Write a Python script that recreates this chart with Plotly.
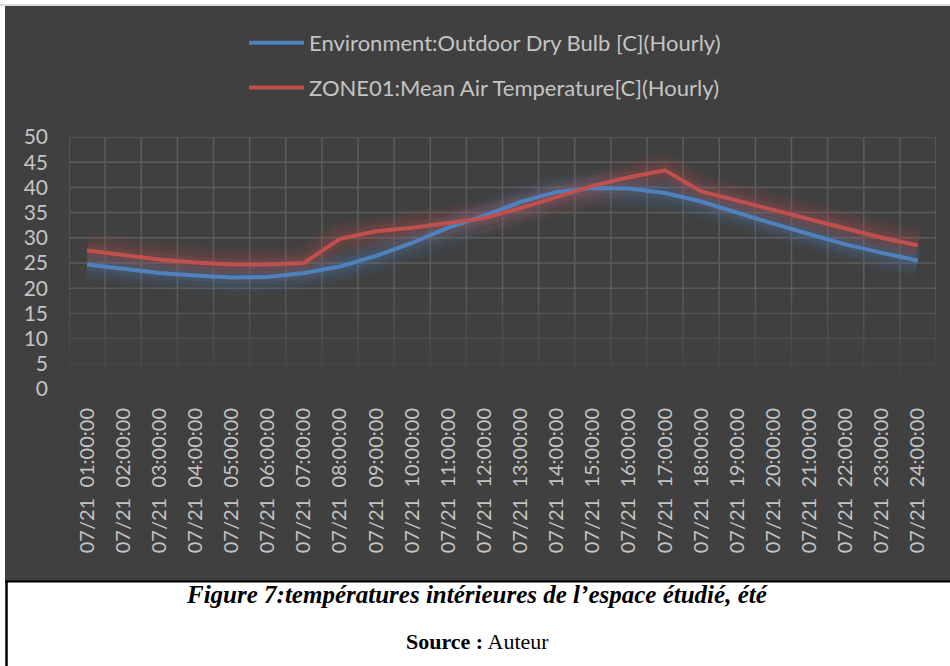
import plotly.graph_objects as go

# Hourly temperatures for 21 July
hours = [f"07/21  {h:02d}:00:00" for h in range(1, 25)]
outdoor_temp = [24.7, 23.8, 23.0, 22.5, 22.1, 22.2, 23.0, 24.3, 26.4, 29.0, 32.0, 34.4,
                37.1, 39.1, 39.9, 39.8, 38.9, 37.2, 34.9, 32.8, 30.7, 28.7, 27.0, 25.5]
zone_temp = [27.5, 26.5, 25.7, 25.1, 24.7, 24.7, 25.0, 29.8, 31.3, 32.0, 32.9, 33.9,
             35.9, 38.1, 40.3, 42.0, 43.4, 39.2, 37.4, 35.5, 33.6, 31.8, 30.0, 28.5]
y_ticks = [0, 5, 10, 15, 20, 25, 30, 35, 40, 45, 50]

name_outdoor = "Environment:Outdoor Dry Bulb [C](Hourly)"
name_zone = "ZONE01:Mean Air Temperature[C](Hourly)"

BLUE = "#4F81BD"
RED = "#C0504D"
BG = "#404040"
GRID = "#5c5c5c"
TXT = "#c4c4c4"

W, H = 950, 666
ML, MR, MT, MB = 69, 14, 137, 277
PW, PH = W - ML - MR, H - MT - MB


def px_x(px):
    return (px - ML) / PW


def px_y(py):
    return (H - MB - py) / PH


fig = go.Figure()

# soft glow beneath each series
for vals, rgb in ((outdoor_temp, "79,129,189"), (zone_temp, "192,80,77")):
    for w, a in ((36, 0.05), (28, 0.07), (20, 0.09), (12, 0.13)):
        fig.add_trace(go.Scatter(x=hours, y=vals, mode="lines",
                                 line=dict(color=f"rgba({rgb},{a})", width=w),
                                 hoverinfo="skip", showlegend=False))

fig.add_trace(go.Scatter(x=hours, y=outdoor_temp, mode="lines", name=name_outdoor,
                         line=dict(color=BLUE, width=4), legendgroup="a"))
fig.add_trace(go.Scatter(x=hours, y=zone_temp, mode="lines", name=name_zone,
                         line=dict(color=RED, width=4), legendgroup="b"))

shapes = []
# chart background panel and frame lines
shapes.append(dict(type="rect", xref="paper", yref="paper", layer="below",
                   x0=px_x(5), x1=px_x(951), y0=px_y(581), y1=px_y(6),
                   fillcolor=BG, line=dict(width=0)))
shapes.append(dict(type="line", xref="paper", yref="paper", layer="below",
                   x0=px_x(0), x1=px_x(950), y0=px_y(5), y1=px_y(5),
                   line=dict(color="#d0d0d0", width=1.5)))
shapes.append(dict(type="line", xref="paper", yref="paper", layer="above",
                   x0=px_x(5), x1=px_x(951), y0=px_y(581.5), y1=px_y(581.5),
                   line=dict(color="#000000", width=2)))
shapes.append(dict(type="line", xref="paper", yref="paper", layer="above",
                   x0=px_x(6.5), x1=px_x(6.5), y0=px_y(582), y1=px_y(667),
                   line=dict(color="#000000", width=2.5)))


# gridlines fading toward the bottom of the plot
def fade(v):
    return max(0.0, min(1.0, v / 22.0)) if v < 22 else 1.0


for yv in y_ticks:
    if yv == 0:
        continue
    shapes.append(dict(type="line", xref="x", yref="y", layer="below",
                       x0=-0.5, x1=len(hours) - 0.5, y0=yv, y1=yv,
                       line=dict(color=GRID, width=1.5), opacity=fade(yv)))
for k in range(len(hours) + 1):
    xv = k - 0.5
    shapes.append(dict(type="line", xref="x", yref="y", layer="below",
                       x0=xv, x1=xv, y0=20, y1=50,
                       line=dict(color=GRID, width=1.5)))
    for lo in range(0, 20, 2):
        shapes.append(dict(type="line", xref="x", yref="y", layer="below",
                           x0=xv, x1=xv, y0=lo, y1=lo + 2,
                           line=dict(color=GRID, width=1.5),
                           opacity=fade(lo + 1)))

fig.update_layout(
    width=W, height=H,
    margin=dict(l=ML, r=MR, t=MT, b=MB),
    paper_bgcolor="#ffffff",
    plot_bgcolor="rgba(0,0,0,0)",
    font=dict(family="Lato", size=20, color=TXT),
    shapes=shapes,
    showlegend=True,
    legend=dict(x=px_x(244), y=px_y(22), xanchor="left", yanchor="top",
                bgcolor="rgba(0,0,0,0)", font=dict(family="Lato", size=22, color=TXT),
                tracegroupgap=13, itemwidth=55, traceorder="grouped"),
    xaxis=dict(type="category", range=[-0.5, len(hours) - 0.5], showgrid=False,
               zeroline=False, showline=False, tickangle=-90, ticks="",
               tickfont=dict(family="Lato", size=20, color=TXT), ticklabelstandoff=14),
    yaxis=dict(range=[0, 50], tickvals=y_ticks, showgrid=False, zeroline=False,
               showline=False, ticks="", ticklabelstandoff=20,
               tickfont=dict(family="Lato", size=21, color=TXT)),
    annotations=[
        dict(xref="paper", yref="paper", x=px_x(477), y=px_y(594), xanchor="center",
             yanchor="middle", showarrow=False,
             text="<b><i>Figure 7:températures intérieures de l’espace étudié, été</i></b>",
             font=dict(family="Liberation Serif", size=25, color="#000000")),
        dict(xref="paper", yref="paper", x=px_x(477), y=px_y(641), xanchor="center",
             yanchor="middle", showarrow=False,
             text="<b>Source :</b> Auteur",
             font=dict(family="Liberation Serif", size=22, color="#000000")),
    ],
)

fig.write_html("out.html")
